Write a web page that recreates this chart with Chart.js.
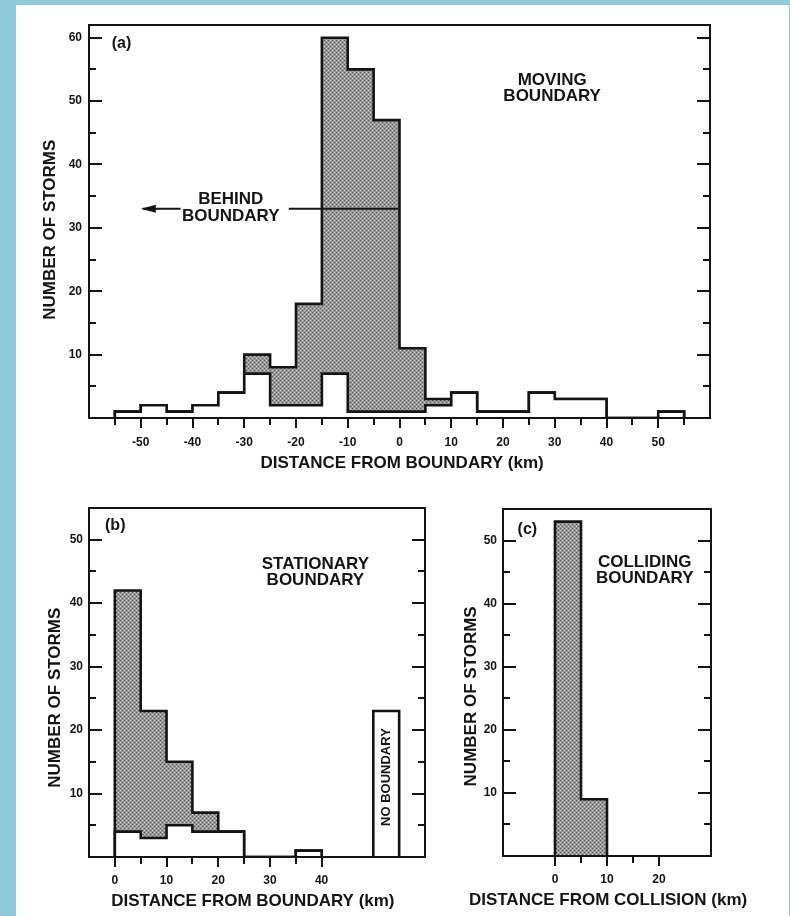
<!DOCTYPE html>
<html>
<head>
<meta charset="utf-8">
<script src="https://cdn.jsdelivr.net/npm/chart.js@4.4.1/dist/chart.umd.min.js"></script>
<style>
  html, body { margin: 0; padding: 0; }
  body { width: 790px; height: 916px; background: #8fcbdc; position: relative; overflow: hidden; }
  #sheet { position: absolute; left: 16px; top: 5px; width: 773px; height: 911px; background: #fff; }
  canvas { position: absolute; }
</style>
</head>
<body>
<div id="sheet"></div>
<canvas id="moving" width="790" height="480" style="left:0;top:0"></canvas>
<canvas id="stationary" width="440" height="436" style="left:0;top:480px"></canvas>
<canvas id="colliding" width="350" height="436" style="left:440px;top:480px"></canvas>
<script>
// storm counts per 5 km bin; each bin is listed by its left edge
const BIN = 5;

const movingBins  = [-55, -50, -45, -40, -35, -30, -25, -20, -15, -10, -5, 0, 5, 10, 15, 20, 25, 30, 35, 40, 45, 50];
const movingTotal = [1, 2, 1, 2, 4, 10, 8, 18, 60, 55, 47, 11, 3, 4, 1, 1, 4, 3, 3, 0, 0, 1];
const movingClear = [1, 2, 1, 2, 4, 7, 2, 2, 7, 1, 1, 1, 2, 4, 1, 1, 4, 3, 3, 0, 0, 1];

const stationaryBins  = [0, 5, 10, 15, 20, 25, 30, 35];
const stationaryTotal = [42, 23, 15, 7, 4, 0, 0, 1];
const stationaryClear = [4, 3, 5, 4, 4, 0, 0, 1];
const noBoundaryBins  = [50];
const noBoundaryCount = [23];

const collidingBins  = [0, 5];
const collidingTotal = [53, 9];

const movingXLabels     = [-50, -40, -30, -20, -10, 0, 10, 20, 30, 40, 50];
const stationaryXLabels = [0, 10, 20, 30, 40];
const collidingXLabels  = [0, 10, 20];
const countLabels       = [10, 20, 30, 40, 50, 60];

const INK = '#141414';
const FAMILY = '"Liberation Sans", Arial, Helvetica, sans-serif';
const TITLE_FONT = 'bold 17px ' + FAMILY;
const NOTE_FONT = 'bold 17px ' + FAMILY;
const TAG_FONT = 'bold 16px ' + FAMILY;

Chart.defaults.font.family = FAMILY;
Chart.defaults.color = INK;

// grey halftone used for the shaded part of the histograms
function stipple() {
    const c = document.createElement('canvas');
    c.width = c.height = 4;
    const g = c.getContext('2d');
    g.fillStyle = '#989898';
    g.fillRect(0, 0, 4, 4);
    g.fillStyle = '#555555';
    g.fillRect(0, 0, 1, 1);
    g.fillRect(2, 2, 1, 1);
    g.fillStyle = '#cfcfcf';
    g.fillRect(2, 0, 1, 1);
    g.fillRect(0, 2, 1, 1);
    return g.createPattern(c, 'repeat');
}
const SHADE = stipple();

// outline points for a step histogram (horizontal first, then vertical)
function steps(bins, counts) {
    const pts = [{x: bins[0], y: 0}];
    bins.forEach((b, i) => pts.push({x: b, y: counts[i]}));
    pts.push({x: bins[bins.length - 1] + BIN, y: 0});
    return pts;
}

function histogram(bins, counts, fill, order) {
    return {
        data: steps(bins, counts),
        stepped: 'before',
        borderColor: INK,
        borderWidth: 2.6,
        borderJoinStyle: 'miter',
        backgroundColor: fill,
        fill: 'origin',
        pointRadius: 0,
        order: order
    };
}

function axes(o) {
    const tickFont = {size: 12, weight: 'bold'};
    return {
        x: {
            type: 'linear', min: o.xMin, max: o.xMax,
            grid: {display: false, drawTicks: false},
            border: {display: false},
            ticks: {
                stepSize: 5, padding: o.xPad, autoSkip: false, maxRotation: 0,
                font: tickFont, color: INK,
                callback: v => o.xLabels.includes(v) ? String(v) : ''
            },
            afterBuildTicks: s => { s.ticks = s.ticks.filter(t => t.value >= o.xFrom && t.value <= o.xTo); },
            afterFit: s => { s.height = o.xHeight; }
        },
        y: {
            type: 'linear', min: 0, max: o.yMax,
            grid: {display: false, drawTicks: false},
            border: {display: false},
            ticks: {
                padding: o.yPad, autoSkip: false,
                font: tickFont, color: INK,
                callback: v => countLabels.includes(v) ? String(v) : ''
            },
            // a mark every 5 storms, labelled every 10
            afterBuildTicks: s => {
                s.ticks = [];
                for (let v = 5; v <= o.yMax; v += 5) s.ticks.push({value: v});
            },
            afterFit: s => { s.width = o.yWidth; }
        }
    };
}

// plot box plus tick marks: inward on both sides, outward under the x axis
const frameTicks = {
    id: 'frameTicks',
    afterDraw(chart) {
        const {ctx, chartArea: a, scales: {x, y}} = chart;
        ctx.save();
        ctx.strokeStyle = INK;
        ctx.lineWidth = 2;
        ctx.strokeRect(a.left, a.top, a.right - a.left, a.bottom - a.top);
        ctx.beginPath();
        y.ticks.forEach(t => {
            const py = Math.round(y.getPixelForValue(t.value));
            const len = t.value % 10 === 0 ? 13 : 7;
            ctx.moveTo(a.left, py);
            ctx.lineTo(a.left + len, py);
            ctx.moveTo(a.right, py);
            ctx.lineTo(a.right - len, py);
        });
        x.ticks.forEach(t => {
            const px = Math.round(x.getPixelForValue(t.value));
            const len = t.value % 10 === 0 ? 10 : 7;
            ctx.moveTo(px, a.bottom);
            ctx.lineTo(px, a.bottom + len);
        });
        ctx.stroke();
        ctx.restore();
    }
};

// texts, axis titles and the arrow, placed in data units with optional pixel nudges
const notes = {
    id: 'notes',
    afterDraw(chart, args, opts) {
        const {ctx, scales: {x, y}} = chart;
        ctx.save();
        ctx.fillStyle = INK;
        ctx.strokeStyle = INK;
        (opts.lines || []).forEach(l => {
            ctx.lineWidth = 2;
            ctx.beginPath();
            ctx.moveTo(x.getPixelForValue(l.x0), y.getPixelForValue(l.y));
            ctx.lineTo(x.getPixelForValue(l.x1), y.getPixelForValue(l.y));
            ctx.stroke();
            if (l.head) {
                const tx = x.getPixelForValue(l.x1), ty = y.getPixelForValue(l.y);
                ctx.beginPath();
                ctx.moveTo(tx - 2, ty);
                ctx.lineTo(tx + 13, ty - 4);
                ctx.lineTo(tx + 13, ty + 4);
                ctx.closePath();
                ctx.fill();
            }
        });
        (opts.items || []).forEach(n => {
            ctx.save();
            ctx.translate(x.getPixelForValue(n.x) + (n.dx || 0), y.getPixelForValue(n.y) + (n.dy || 0));
            if (n.rotate) ctx.rotate(n.rotate);
            ctx.font = n.font || NOTE_FONT;
            ctx.textAlign = n.align || 'center';
            ctx.textBaseline = 'middle';
            const rows = [].concat(n.text);
            const lh = n.lineHeight || 16;
            rows.forEach((t, i) => ctx.fillText(t, 0, (i - (rows.length - 1) / 2) * lh));
            ctx.restore();
        });
        ctx.restore();
    }
};

function makeChart(id, datasets, scales, padding, noteOpts) {
    return new Chart(document.getElementById(id), {
        type: 'line',
        data: {datasets},
        options: {
            responsive: false,
            animation: false,
            events: [],
            layout: {padding},
            scales,
            plugins: {
                legend: {display: false},
                tooltip: {enabled: false},
                notes: noteOpts
            }
        },
        plugins: [frameTicks, notes]
    });
}

makeChart('moving',
    [histogram(movingBins, movingClear, '#ffffff', 1),
     histogram(movingBins, movingTotal, SHADE, 2)],
    axes({xMin: -60, xMax: 60, xFrom: -55, xTo: 55, xLabels: movingXLabels, xPad: 17, xHeight: 62,
          yMax: 62, yPad: 7, yWidth: 89}),
    {left: 0, top: 25, right: 80, bottom: 0},
    {
        lines: [
            {x0: -21.4, x1: -0.3, y: 33},
            {x0: -42.3, x1: -49.6, y: 33, head: true}
        ],
        items: [
            {text: '(a)', x: -55.6, y: 59.1, align: 'left', font: TAG_FONT},
            {text: ['MOVING', 'BOUNDARY'], x: 29.5, y: 52},
            {text: ['BEHIND', 'BOUNDARY'], x: -32.6, y: 33.1, lineHeight: 17},
            {text: 'DISTANCE FROM BOUNDARY (km)', x: 0.5, y: 0, dy: 45.5, font: TITLE_FONT},
            {text: 'NUMBER OF STORMS', x: -60, dx: -38.5, y: 29.7, rotate: -Math.PI / 2, font: TITLE_FONT}
        ]
    });

makeChart('stationary',
    [histogram(noBoundaryBins, noBoundaryCount, '#ffffff', 0),
     histogram(stationaryBins, stationaryClear, '#ffffff', 1),
     histogram(stationaryBins, stationaryTotal, SHADE, 2)],
    axes({xMin: -5, xMax: 60, xFrom: 0, xTo: 40, xLabels: stationaryXLabels, xPad: 16.5, xHeight: 59,
          yMax: 55, yPad: 6, yWidth: 89}),
    {left: 0, top: 28, right: 15, bottom: 0},
    {
        items: [
            {text: '(b)', x: -1.9, y: 52.3, align: 'left', font: TAG_FONT},
            {text: ['STATIONARY', 'BOUNDARY'], x: 38.8, y: 44.9, lineHeight: 15.5},
            {text: 'NO BOUNDARY', x: 52.5, y: 12.6, rotate: -Math.PI / 2, font: 'bold 13px ' + FAMILY},
            {text: 'DISTANCE FROM BOUNDARY (km)', x: 26.7, y: 0, dy: 44.5, font: TITLE_FONT},
            {text: 'NUMBER OF STORMS', x: -5, dx: -33.2, y: 25.1, rotate: -Math.PI / 2, font: TITLE_FONT}
        ]
    });

makeChart('colliding',
    [histogram(collidingBins, collidingTotal, SHADE, 1)],
    axes({xMin: -10, xMax: 30, xFrom: 0, xTo: 20, xLabels: collidingXLabels, xPad: 16.5, xHeight: 60,
          yMax: 55, yPad: 6, yWidth: 63}),
    {left: 0, top: 29, right: 79, bottom: 0},
    {
        items: [
            {text: '(c)', x: -7.2, y: 51.7, align: 'left', font: TAG_FONT},
            {text: ['COLLIDING', 'BOUNDARY'], x: 17.25, y: 45.3},
            {text: 'DISTANCE FROM COLLISION (km)', x: 10.2, y: 0, dy: 44.5, font: TITLE_FONT},
            {text: 'NUMBER OF STORMS', x: -10, dx: -31.6, y: 25.3, rotate: -Math.PI / 2, font: TITLE_FONT}
        ]
    });
</script>
</body>
</html>
